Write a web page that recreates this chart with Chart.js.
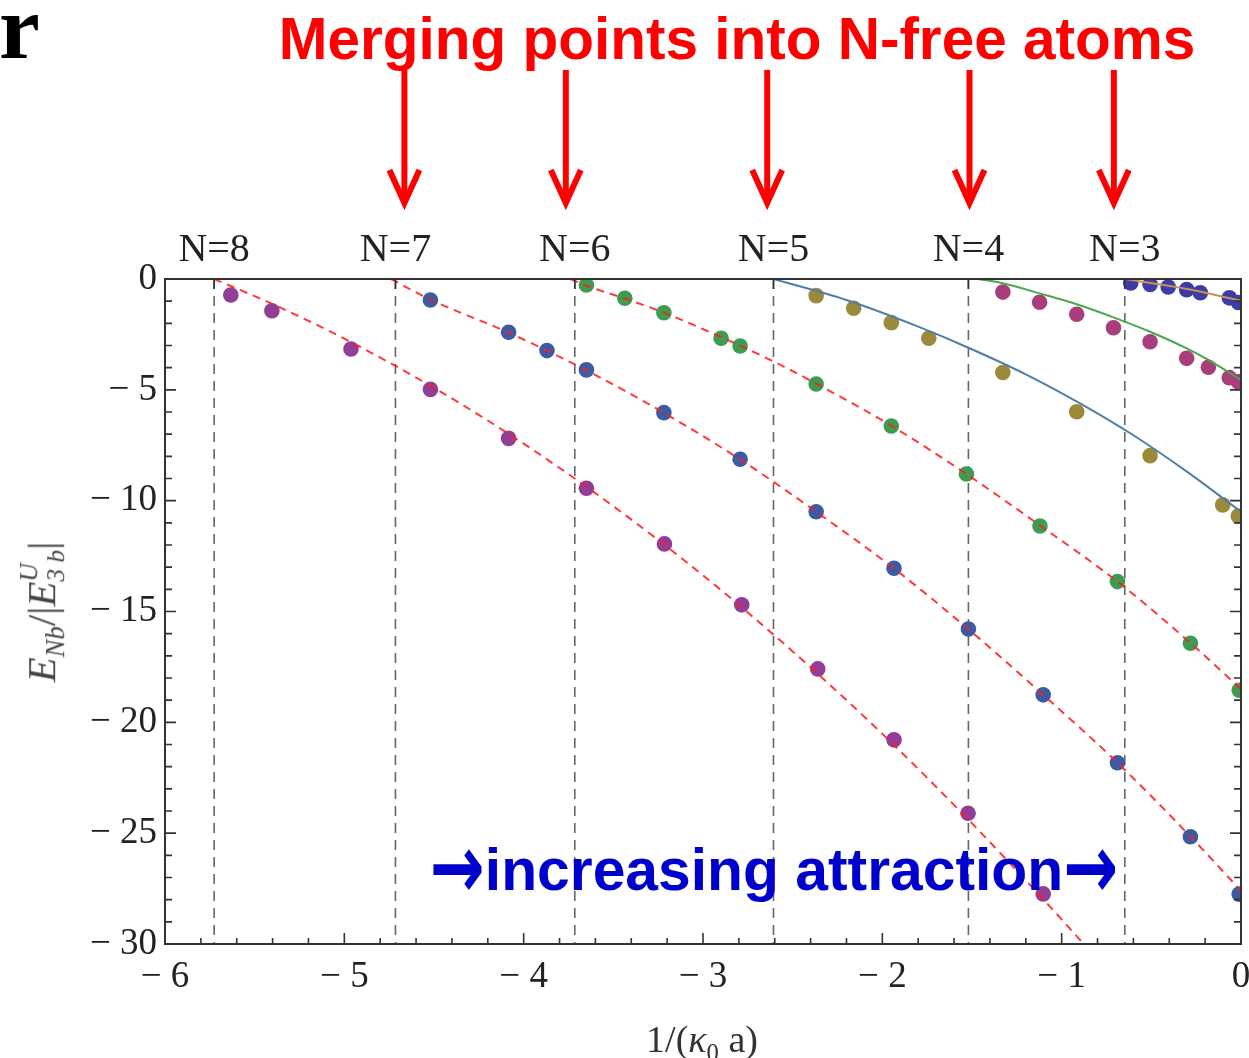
<!DOCTYPE html>
<html>
<head>
<meta charset="utf-8">
<script src="https://cdn.jsdelivr.net/npm/chart.js@4.4.1/dist/chart.umd.min.js"></script>
<style>
  html, body { margin:0; padding:0; background:#fff; }
  #wrap { position:relative; width:1249px; height:1058px; overflow:hidden; }
  #c { position:absolute; left:0; top:0; }
  .txt { position:absolute; white-space:nowrap; line-height:1; }
  #panel { left:-1px; top:-19px; font-family:'Liberation Serif',serif; font-weight:bold; font-size:92px; color:#000; }
  #title { left:737px; top:10px; transform:translateX(-50%); font-family:'Liberation Sans',Arial,sans-serif; font-weight:bold; font-size:58.5px; color:#ff0000; }
  #attr { left:774px; top:834px; transform:translateX(-50%) scaleX(0.98); font-family:'Liberation Sans',Arial,sans-serif; font-weight:bold; font-size:60px; color:#0000cc; }
  #attr .arr { display:inline-block; font-family:'DejaVu Sans',sans-serif; font-weight:bold; font-size:67px; transform:scaleY(1.35); }
  #xlab { left:702px; top:1020px; transform:translateX(-50%); font-family:'Liberation Serif',serif; font-size:38px; color:#333; }
  #ylab { left:42px; top:612px; transform:translate(-50%,-50%) rotate(-90deg); font-family:'Liberation Serif',serif; font-size:41px; color:#444; }
  #ylab .ss { display:inline-block; vertical-align:-0.35em; font-size:62%; line-height:1.05; text-align:left; font-style:italic; }
  #ylab .ss span { display:block; }
  sub { font-size:65%; }
</style>
</head>
<body>
<div id="wrap">
<canvas id="c" width="1249" height="1058"></canvas>
<div class="txt" id="panel">r</div>
<div class="txt" id="title">Merging points into N-free atoms</div>
<div class="txt" id="attr"><span class="arr">→</span>increasing attraction<span class="arr">→</span></div>
<div class="txt" id="xlab">1/(<i>κ</i><sub>0</sub> a)</div>
<div class="txt" id="ylab"><i>E</i><sub><i>Nb</i></sub>/|<i>E</i><span class="ss"><span>U</span><span>3 b</span></span>|</div>
</div>
<script>
// ---- tick / annotation data ----
const nLabels  = ['N=8','N=7','N=6','N=5','N=4','N=3'];
const nMerge   = [-5.726, -4.715, -3.715, -2.607, -1.52, -0.648];
const arrowAt  = [-4.665, -3.765, -2.642, -1.514, -0.709];

// ---- data points ----
const purpleX  = [-5.633,-5.404,-4.963,-4.520,-4.084,-3.650,-3.215,-2.784,-2.360,-1.935,-1.522,-1.103];
const purpleY  = [-0.72,-1.43,-3.16,-4.98,-7.19,-9.44,-11.95,-14.70,-17.59,-20.79,-24.10,-27.74];
const blueX    = [-4.520,-4.084,-3.870,-3.650,-3.218,-2.793,-2.369,-1.935,-1.520,-1.103,-0.689,-0.282,-0.010];
const blueY    = [-0.95,-2.40,-3.23,-4.10,-6.03,-8.13,-10.50,-13.05,-15.79,-18.76,-21.82,-25.16,-27.75];
const greenX   = [-3.650,-3.436,-3.218,-2.899,-2.793,-2.369,-1.950,-1.531,-1.121,-0.689,-0.282,-0.010];
const greenY   = [-0.27,-0.87,-1.52,-2.67,-3.02,-4.74,-6.63,-8.80,-11.14,-13.65,-16.43,-18.55];
const oliveX   = [-2.369,-2.160,-1.950,-1.741,-1.328,-0.916,-0.507,-0.102,-0.015];
const oliveY   = [-0.75,-1.32,-1.97,-2.67,-4.22,-5.99,-7.97,-10.19,-10.69];
const magentaX = [-1.328,-1.123,-0.916,-0.711,-0.507,-0.303,-0.182,-0.065,-0.015];
const magentaY = [-0.59,-1.05,-1.59,-2.20,-2.83,-3.58,-3.98,-4.45,-4.63];
const navyX    = [-0.615,-0.507,-0.406,-0.303,-0.227,-0.065,-0.015];
const navyY    = [-0.18,-0.25,-0.36,-0.48,-0.62,-0.85,-1.06];

// ---- fitted curves ----
const fitAX = [-5.726,-5.4,-5.0,-4.5,-4.0,-3.5,-3.0,-2.5,-2.0,-1.5,-1.0,-0.877];
const fitAY = [0,-1.13,-2.69,-4.91,-7.43,-10.25,-13.37,-16.80,-20.52,-24.56,-28.89,-30];
const fitBX = [-4.74,-4.52,-4.084,-3.65,-3.218,-2.793,-2.369,-1.935,-1.52,-1.103,-0.689,-0.282,0];
const fitBY = [0,-0.93,-2.42,-4.12,-6.04,-8.14,-10.5,-13.06,-15.8,-18.76,-21.82,-25.15,-27.6];
const fitCX = [-3.74,-3.65,-3.436,-3.218,-2.899,-2.607,-2.369,-1.95,-1.531,-1.121,-0.689,-0.282,0];
const fitCY = [0,-0.3,-0.88,-1.52,-2.62,-3.72,-4.72,-6.62,-8.8,-11.12,-13.65,-16.42,-18.5];
const fitDX = [-2.607,-2.2,-1.8,-1.52,-1.2,-0.9,-0.6,-0.3,0];
const fitDY = [0,-0.95,-2.15,-3.1,-4.3,-5.6,-7.05,-8.7,-10.5];
const fitEX = [-1.47,-1.328,-1.123,-0.916,-0.711,-0.507,-0.303,-0.182,0];
const fitEY = [0,-0.19,-0.65,-1.14,-1.73,-2.38,-3.13,-3.65,-4.56];
const fitFX = [-0.648,-0.3,0];
const fitFY = [0,-0.45,-0.98];

const pts = (xs, ys) => xs.map((x, i) => ({x, y: ys[i]}));

function curve(xs, ys, color, dash, width) {
  return { data: pts(xs, ys), showLine: true, pointRadius: 0, borderColor: color,
           borderWidth: width, borderDash: dash, cubicInterpolationMode: 'monotone', fill: false };
}
function dots(xs, ys, color) {
  return { data: pts(xs, ys), showLine: false, pointRadius: 7.8, pointBorderWidth: 0,
           backgroundColor: color, borderColor: color };
}
const redDash = 'rgba(255,30,30,0.88)';

const serif = "'Liberation Serif', 'Times New Roman', serif";
const minusLabel = v => v === 0 ? '0' : '\u2212 ' + Math.abs(v);

const framePlugin = {
  id: 'frame',
  beforeDatasetsDraw(chart) {
    const {ctx, chartArea: a, scales: {x}} = chart;
    ctx.save();
    ctx.strokeStyle = '#666';
    ctx.lineWidth = 1.6;
    ctx.setLineDash([10, 7]);
    nMerge.forEach(v => {
      const px = x.getPixelForValue(v);
      ctx.beginPath(); ctx.moveTo(px, a.top); ctx.lineTo(px, a.bottom); ctx.stroke();
    });
    ctx.restore();
  },
  afterDatasetsDraw(chart) {
    const {ctx, chartArea: a, scales: {x, y}} = chart;
    ctx.save();
    ctx.strokeStyle = '#333';
    ctx.lineWidth = 2;
    ctx.strokeRect(a.left, a.top, a.right - a.left, a.bottom - a.top);
    ctx.lineWidth = 1.6;
    ctx.beginPath();
    for (let i = 0; i <= 30; i++) {
      const v = x.min + i * 0.2;
      const px = x.getPixelForValue(v);
      const len = (i % 5 === 0) ? 11 : 6;
      ctx.moveTo(px, a.bottom); ctx.lineTo(px, a.bottom - len);
    }
    nMerge.forEach(v => {
      const px = x.getPixelForValue(v);
      ctx.moveTo(px, a.top); ctx.lineTo(px, a.top + 10);
    });
    for (let i = 0; i <= 30; i++) {
      const v = y.max - i;
      const py = y.getPixelForValue(v);
      const len = (i % 5 === 0) ? 11 : 7;
      ctx.moveTo(a.left, py); ctx.lineTo(a.left + len, py);
      ctx.moveTo(a.right, py); ctx.lineTo(a.right - len, py);
    }
    ctx.stroke();
    ctx.restore();
  },
  afterDraw(chart) {
    const {ctx, scales: {x}} = chart;
    ctx.save();
    ctx.strokeStyle = '#ff0000';
    ctx.lineWidth = 6;
    ctx.lineCap = 'butt';
    ctx.lineJoin = 'miter';
    arrowAt.forEach(v => {
      const px = x.getPixelForValue(v);
      ctx.beginPath(); ctx.moveTo(px, 70); ctx.lineTo(px, 200); ctx.stroke();
      ctx.beginPath(); ctx.moveTo(px - 15, 170); ctx.lineTo(px, 203); ctx.lineTo(px + 15, 170); ctx.stroke();
    });
    ctx.restore();
  }
};

const noPadX = s => { s.paddingLeft = 0; s.paddingRight = 0; };

new Chart(document.getElementById('c'), {
  type: 'scatter',
  data: {
    datasets: [
      curve(fitAX, fitAY, redDash, [8, 6], 2),
      curve(fitBX, fitBY, redDash, [8, 6], 2),
      curve(fitCX, fitCY, redDash, [8, 6], 2),
      curve(fitDX, fitDY, '#4f7fa6', [], 2),
      curve(fitEX, fitEY, '#4aa84a', [], 2),
      curve(fitFX, fitFY, '#c8905a', [], 2),
      dots(purpleX, purpleY, '#923d96'),
      dots(blueX, blueY, '#3d5ba3'),
      dots(greenX, greenY, '#3e9c52'),
      dots(oliveX, oliveY, '#9c8a3c'),
      dots(magentaX, magentaY, '#a83e7c'),
      dots(navyX, navyY, '#3c3ca6')
    ]
  },
  options: {
    responsive: false,
    animation: false,
    events: [],
    layout: { padding: { left: 0, right: 8, top: 0, bottom: 0 } },
    plugins: { legend: { display: false }, tooltip: { enabled: false } },
    scales: {
      x: {
        type: 'linear', position: 'bottom', min: -6, max: 0,
        afterFit: s => { s.height = 114; noPadX(s); },
        grid: { display: false, drawTicks: false }, border: { display: false },
        ticks: { stepSize: 1, padding: 11, color: '#222', font: { family: serif, size: 37 },
                 callback: minusLabel, maxRotation: 0 }
      },
      xTop: {
        type: 'linear', position: 'top', min: -6, max: 0,
        afterFit: s => { s.height = 279; noPadX(s); },
        afterBuildTicks: s => { s.ticks = nMerge.map(v => ({ value: v })); },
        grid: { display: false, drawTicks: false }, border: { display: false },
        ticks: { autoSkip: false, padding: 5, color: '#222', font: { family: serif, size: 40 },
                 maxRotation: 0, callback: (v, i) => nLabels[i] }
      },
      y: {
        type: 'linear', position: 'left', min: -30, max: 0,
        afterFit: s => { s.width = 165; s.paddingTop = 0; s.paddingBottom = 0; },
        grid: { display: false, drawTicks: false }, border: { display: false },
        ticks: { stepSize: 5, padding: 8, color: '#222', font: { family: serif, size: 37 },
                 callback: minusLabel }
      }
    }
  },
  plugins: [framePlugin]
});
</script>
</body>
</html>
